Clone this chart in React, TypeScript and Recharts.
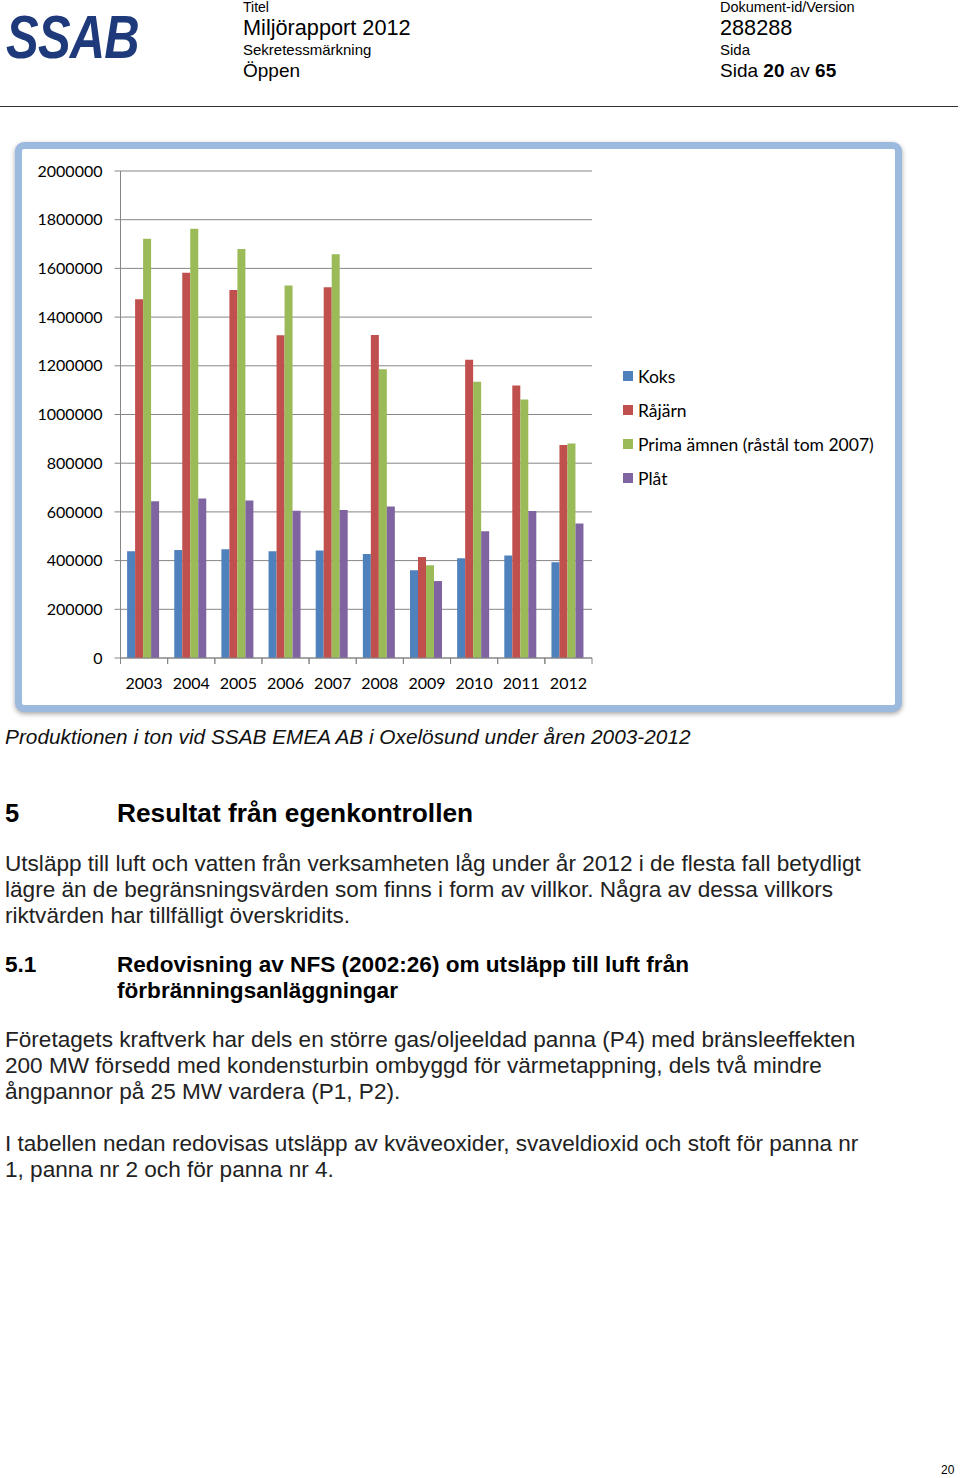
import { BarChart, Bar, XAxis, YAxis, CartesianGrid, Legend } from 'recharts';

const years = ['2003', '2004', '2005', '2006', '2007', '2008', '2009', '2010', '2011', '2012'];
const koks = [438000, 444000, 447000, 438000, 441000, 427000, 360000, 410000, 421000, 393000];
const rajarn = [1473000, 1582000, 1511000, 1325000, 1523000, 1327000, 415000, 1225000, 1119000, 875000];
const prima = [1722000, 1763000, 1680000, 1530000, 1658000, 1186000, 381000, 1134000, 1062000, 881000];
const plat = [644000, 655000, 647000, 605000, 608000, 622000, 316000, 521000, 604000, 552000];
const yTicks = [0, 200000, 400000, 600000, 800000, 1000000, 1200000, 1400000, 1600000, 1800000, 2000000];

const seriesInfo = [
  { key: 'Koks', color: '#4F81BD' },
  { key: 'Råjärn', color: '#C0504D' },
  { key: 'Prima ämnen (råstål tom 2007)', color: '#9BBB59' },
  { key: 'Plåt', color: '#8064A2' },
];

const data = years.map((y, i) => ({
  year: y,
  Koks: koks[i],
  'Råjärn': rajarn[i],
  'Prima ämnen (råstål tom 2007)': prima[i],
  'Plåt': plat[i],
}));

const CHART_W = 872;
const CHART_H = 555;
const MARGIN = { top: 21, right: 303, bottom: 17, left: 17.5 };
const Y_W = 80;
const BAND = (CHART_W - MARGIN.left - MARGIN.right - Y_W) / years.length;

const axisColor = '#868686';
const chartFont = 'Lato, "Open Sans", sans-serif';

const YearTick = (props: any) => {
  const { x, y, payload } = props;
  const axisY = y - 8;
  return (
    <g>
      <line x1={x - BAND / 2} x2={x - BAND / 2} y1={axisY} y2={axisY + 6} stroke={axisColor} />
      <line x1={x + BAND / 2} x2={x + BAND / 2} y1={axisY} y2={axisY + 6} stroke={axisColor} />
      <text x={x} y={y + 23} textAnchor="middle" fontSize={16} fill="#000" fontFamily={chartFont}>
        {payload.value}
      </text>
    </g>
  );
};

const LegendList = () => (
  <div style={{ fontFamily: chartFont, fontSize: 17.5, color: '#000' }}>
    {seriesInfo.map((s) => (
      <div key={s.key} style={{ height: 34, display: 'flex', alignItems: 'center' }}>
        <span style={{ width: 10, height: 10, background: s.color, display: 'inline-block', marginRight: 5 }} />
        <span>{s.key}</span>
      </div>
    ))}
  </div>
);

const abs = (left: number, top: number, extra: React.CSSProperties = {}): React.CSSProperties => ({
  position: 'absolute',
  left,
  top,
  whiteSpace: 'nowrap',
  transformOrigin: 'left top',
  ...extra,
});

const sans = '"Liberation Sans", Arial, sans-serif';
const bodyText: React.CSSProperties = { fontSize: 21.5, lineHeight: '26px', color: '#222', transform: 'scaleX(1.05)' };

export default function App() {
  return (
    <div style={{ position: 'absolute', left: 0, top: 0, width: 960, height: 1478, background: '#fff', fontFamily: sans, color: '#000', overflow: 'hidden' }}>
      {/* header */}
      <div style={abs(6, 2, { fontSize: 62, fontWeight: 700, fontStyle: 'italic', color: '#1E3A7B', lineHeight: '70px', transform: 'scaleX(0.79)', letterSpacing: -1 })}>
        SSAB
      </div>
      <div style={abs(243, 0, { fontSize: 14, lineHeight: '14px' })}>Titel</div>
      <div style={abs(243, 16, { fontSize: 21.7, lineHeight: '24px' })}>Miljörapport 2012</div>
      <div style={abs(243, 42, { fontSize: 15, lineHeight: '16px' })}>Sekretessmärkning</div>
      <div style={abs(243, 60, { fontSize: 19, lineHeight: '22px' })}>Öppen</div>
      <div style={abs(720, 0, { fontSize: 14.5, lineHeight: '14px' })}>Dokument-id/Version</div>
      <div style={abs(720, 16, { fontSize: 21.7, lineHeight: '24px' })}>288288</div>
      <div style={abs(720, 42, { fontSize: 15, lineHeight: '16px' })}>Sida</div>
      <div style={abs(720, 60, { fontSize: 19, lineHeight: '22px' })}>
        Sida <b>20</b> av <b>65</b>
      </div>
      <div style={abs(0, 106, { width: 958, height: 1, background: '#333' })} />

      {/* chart frame */}
      <div style={abs(15, 142, { width: 873, height: 556, border: '7px solid #9CB9DE', borderRadius: 9, boxShadow: '0 2px 5px rgba(0,0,0,0.35)', background: '#fff' })} />
      <div style={abs(23, 150)}>
        <BarChart width={CHART_W} height={CHART_H} data={data} margin={MARGIN} barCategoryGap="14%" barGap={0}>
          <CartesianGrid vertical={false} stroke={axisColor} strokeWidth={1} />
          <XAxis
            dataKey="year"
            height={30}
            stroke={axisColor}
            tickLine={false}
            tick={<YearTick />}
            interval={0}
          />
          <YAxis
            width={Y_W}
            domain={[0, 2000000]}
            ticks={yTicks}
            stroke={axisColor}
            tickSize={6}
            tickMargin={12}
            interval={0}
            tick={{ fill: '#000', fontSize: 16, fontFamily: chartFont }}
          />
          <Legend
            layout="vertical"
            align="center"
            verticalAlign="middle"
            content={<LegendList />}
            wrapperStyle={{ left: 600, top: 209, width: 270 }}
          />
          {seriesInfo.map((s) => (
            <Bar key={s.key} dataKey={s.key} fill={s.color} isAnimationActive={false} />
          ))}
        </BarChart>
      </div>

      <div style={abs(5, 725, { fontSize: 20.5, fontStyle: 'italic', lineHeight: '24px', color: '#111', transform: 'scaleX(1.015)' })}>
        Produktionen i ton vid SSAB EMEA AB i Oxelösund under åren 2003-2012
      </div>

      <div style={abs(5, 798, { fontSize: 25.5, fontWeight: 700, lineHeight: '30px' })}>5</div>
      <div style={abs(117, 798, { fontSize: 25.5, fontWeight: 700, lineHeight: '30px', transform: 'scaleX(1.03)' })}>
        Resultat från egenkontrollen
      </div>

      <div style={abs(5, 851, bodyText)}>
        Utsläpp till luft och vatten från verksamheten låg under år 2012 i de flesta fall betydligt
        <br />
        lägre än de begränsningsvärden som finns i form av villkor. Några av dessa villkors
        <br />
        riktvärden har tillfälligt överskridits.
      </div>

      <div style={abs(5, 952, { ...bodyText, fontWeight: 700, color: '#000' })}>5.1</div>
      <div style={abs(117, 952, { ...bodyText, fontWeight: 700, color: '#000' })}>
        Redovisning av NFS (2002:26) om utsläpp till luft från
        <br />
        förbränningsanläggningar
      </div>

      <div style={abs(5, 1027, bodyText)}>
        Företagets kraftverk har dels en större gas/oljeeldad panna (P4) med bränsleeffekten
        <br />
        200 MW försedd med kondensturbin ombyggd för värmetappning, dels två mindre
        <br />
        ångpannor på 25 MW vardera (P1, P2).
      </div>

      <div style={abs(5, 1131, bodyText)}>
        I tabellen nedan redovisas utsläpp av kväveoxider, svaveldioxid och stoft för panna nr
        <br />
        1, panna nr 2 och för panna nr 4.
      </div>

      <div style={abs(941, 1463, { fontSize: 12, lineHeight: '14px' })}>20</div>
    </div>
  );
}
